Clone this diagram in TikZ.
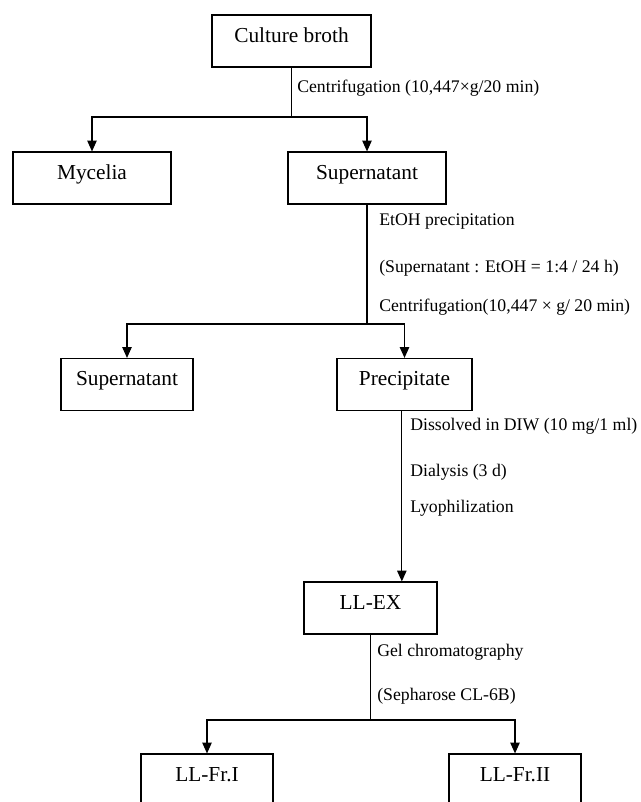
\documentclass[tikz,border=0pt]{standalone}
\usepackage{fontspec}
\setmainfont{Liberation Serif}
\usetikzlibrary{arrows.meta}

\begin{document}
\begin{tikzpicture}[x=0.75pt,y=-0.75pt,
  box/.style={draw,line width=0.9pt,minimum height=39pt,inner sep=0pt,
    text height=11pt,text depth=9pt,font=\fontsize{16}{18}\selectfont},
  lbl/.style={anchor=west,inner sep=0pt,font=\fontsize{13.3}{15}\selectfont},
  flow/.style={line width=0.8pt,-{Triangle[length=8pt,width=7pt]}},
  link/.style={line width=0.8pt}]
  % Page frame
  \useasboundingbox (0,0) rectangle (641,802);
  \clip (0,0) rectangle (641,802);

  % Boxes
  \node[box,minimum width=119.25pt] (broth) at (291.5,41) {Culture broth};
  \node[box,minimum width=118.5pt] (mycelia) at (92,178) {Mycelia};
  \node[box,minimum width=118.5pt] (supern) at (367,178) {Supernatant};
  \node[box,minimum width=99pt] (supernb) at (127,384.5) {Supernatant};
  \node[box,minimum width=101.25pt] (precip) at (404.5,384.5) {Precipitate};
  \node[box,minimum width=99.75pt] (llex) at (370.5,608) {LL-EX};
  \node[box,minimum width=99pt] (fri) at (207,780) {LL-Fr.I};
  \node[box,minimum width=99pt] (frii) at (515,780) {LL-Fr.II};

  % Branch levels
  \coordinate (split1) at (0,117);
  \coordinate (split2) at (0,324);
  \coordinate (split3) at (0,720);

  % Connectors
  \draw[flow] (broth.south) -- (broth.south |- split1) -| (mycelia.north);
  \draw[flow] (broth.south) -- (broth.south |- split1) -| (supern.north);
  \draw[flow] (supern.south) -- (supern.south |- split2) -| (supernb.north);
  \draw[flow] (supern.south) -- (supern.south |- split2) -| (precip.north);
  \draw[flow] ([xshift=-2pt]precip.south) -- ([xshift=-2pt]precip.south |- llex.north);
  \draw[flow] (llex.south) -- (llex.south |- split3) -| (fri.north);
  \draw[flow] (llex.south) -- (llex.south |- split3) -| (frii.north);

  % Labels
  \node[lbl] (cent1) at (297,88) {Centrifugation (10,447×g/20 min)};
  \node[lbl] (etoh) at (379,222) {EtOH precipitation};
  \node[lbl] (ratio) at (379,268) {(Supernatant : EtOH = 1:4 / 24 h)};
  \node[lbl] (cent2) at (379,307) {Centrifugation(10,447 × g/ 20 min)};
  \node[lbl] (diss) at (410,426) {Dissolved in DIW (10 mg/1 ml)};
  \node[lbl] (dial) at (410,472) {Dialysis (3 d)};
  \node[lbl] (lyo) at (410,508) {Lyophilization};
  \node[lbl] (gel) at (377,652) {Gel chromatography};
  \node[lbl] (seph) at (377,696) {(Sepharose CL-6B)};
\end{tikzpicture}
\end{document}
